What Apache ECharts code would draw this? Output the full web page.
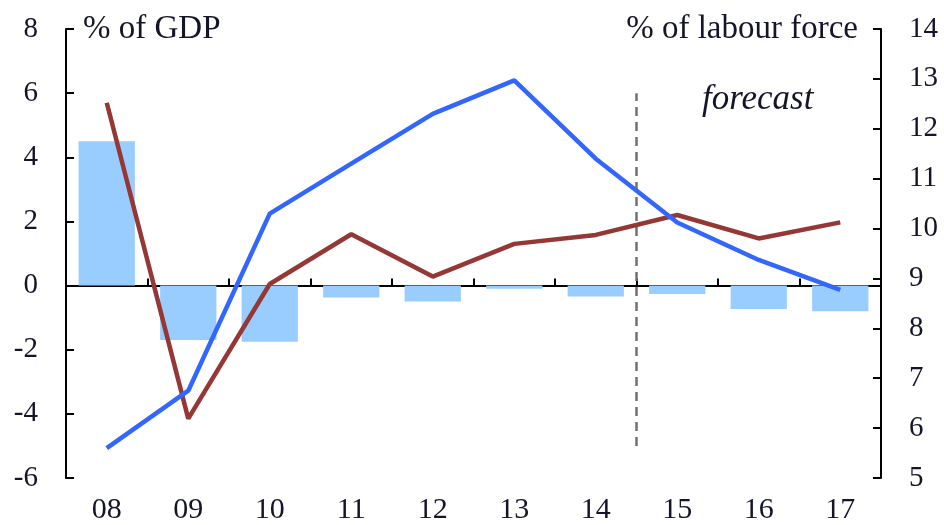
<!DOCTYPE html>
<html>
<head>
<meta charset="utf-8">
<script src="https://cdn.jsdelivr.net/npm/echarts@6/dist/echarts.min.js"></script>
<style>
html,body{margin:0;padding:0;background:#fff;}
#chart{width:944px;height:525px;}
</style>
</head>
<body>
<div id="chart"></div>
<script>
const categories = ['08','09','10','11','12','13','14','15','16','17'];
const barValues = [4.5, -1.7, -1.75, -0.37, -0.5, -0.1, -0.34, -0.26, -0.73, -0.8];
const redValues = [5.7, -4.15, 0.05, 1.6, 0.28, 1.3, 1.58, 2.2, 1.47, 1.97];
const blueValues = [5.6, 6.75, 10.3, 11.3, 12.3, 12.97, 11.4, 10.12, 9.37, 8.77];
const forecastBoundary = [[7, -5], [7, 6]];
const leftAxisName = '% of GDP';
const rightAxisName = '% of labour force';
const forecastLabel = 'forecast';

const FONT = 'Liberation Serif';
const TXT = '#15152a';

const chart = echarts.init(document.getElementById('chart'), null, {renderer: 'canvas'});
chart.setOption({
  animation: false,
  backgroundColor: '#ffffff',
  grid: {left: 66, right: 63, top: 29, bottom: 43, containLabel: false},
  xAxis: [
    {
      type: 'category', data: categories, boundaryGap: true,
      axisLine: {show: true, onZero: true, onZeroAxisIndex: 0, lineStyle: {color: '#000', width: 2}},
      axisTick: {show: true, inside: true, length: 7, lineStyle: {color: '#000', width: 2}},
      axisLabel: {show: false},
      splitLine: {show: false}
    },
    {
      type: 'category', data: categories, position: 'bottom', boundaryGap: true,
      axisLine: {show: false, onZero: false},
      axisTick: {show: false},
      axisLabel: {show: true, margin: 17, fontFamily: FONT, fontSize: 30, color: TXT},
      splitLine: {show: false}
    },
    {
      type: 'value', min: 0, max: 10, show: false
    }
  ],
  yAxis: [
    {
      type: 'value', min: -6, max: 8, interval: 2, position: 'left',
      axisLine: {show: true, lineStyle: {color: '#000', width: 2}},
      axisTick: {show: true, inside: true, length: 8, lineStyle: {color: '#000', width: 2}},
      axisLabel: {margin: 28, fontFamily: FONT, fontSize: 29, color: TXT},
      splitLine: {show: false}
    },
    {
      type: 'value', min: 5, max: 14, interval: 1, position: 'right',
      axisLine: {show: true, lineStyle: {color: '#000', width: 2}},
      axisTick: {show: true, inside: true, length: 8, lineStyle: {color: '#000', width: 2}},
      axisLabel: {margin: 28, fontFamily: FONT, fontSize: 29, color: TXT},
      splitLine: {show: false}
    }
  ],
  series: [
    {
      type: 'bar', name: 'bars', data: barValues, xAxisIndex: 0, yAxisIndex: 0,
      barWidth: '69%', itemStyle: {color: '#99ccff'}, z: 1, silent: true
    },
    {
      type: 'line', name: 'forecast line', data: forecastBoundary, xAxisIndex: 2, yAxisIndex: 0,
      symbol: 'none', lineStyle: {color: '#707070', width: 2.5, type: [9, 6]}, z: 2, silent: true
    },
    {
      type: 'line', name: 'red', data: redValues, xAxisIndex: 0, yAxisIndex: 0,
      symbol: 'none', lineStyle: {color: '#953735', width: 4.5}, z: 3, silent: true
    },
    {
      type: 'line', name: 'blue', data: blueValues, xAxisIndex: 0, yAxisIndex: 1,
      symbol: 'none', lineStyle: {color: '#3366ff', width: 4.5}, z: 4, silent: true
    }
  ],
  graphic: [
    {type: 'text', left: 83, top: 13, style: {text: leftAxisName, font: '33px "' + FONT + '"', fill: TXT}},
    {type: 'text', right: 86, top: 13, style: {text: rightAxisName, font: '33px "' + FONT + '"', fill: TXT, textAlign: 'right'}},
    {type: 'text', left: 702, top: 82, style: {text: forecastLabel, font: 'italic 35px "' + FONT + '"', fill: TXT}}
  ]
});
</script>
</body>
</html>
